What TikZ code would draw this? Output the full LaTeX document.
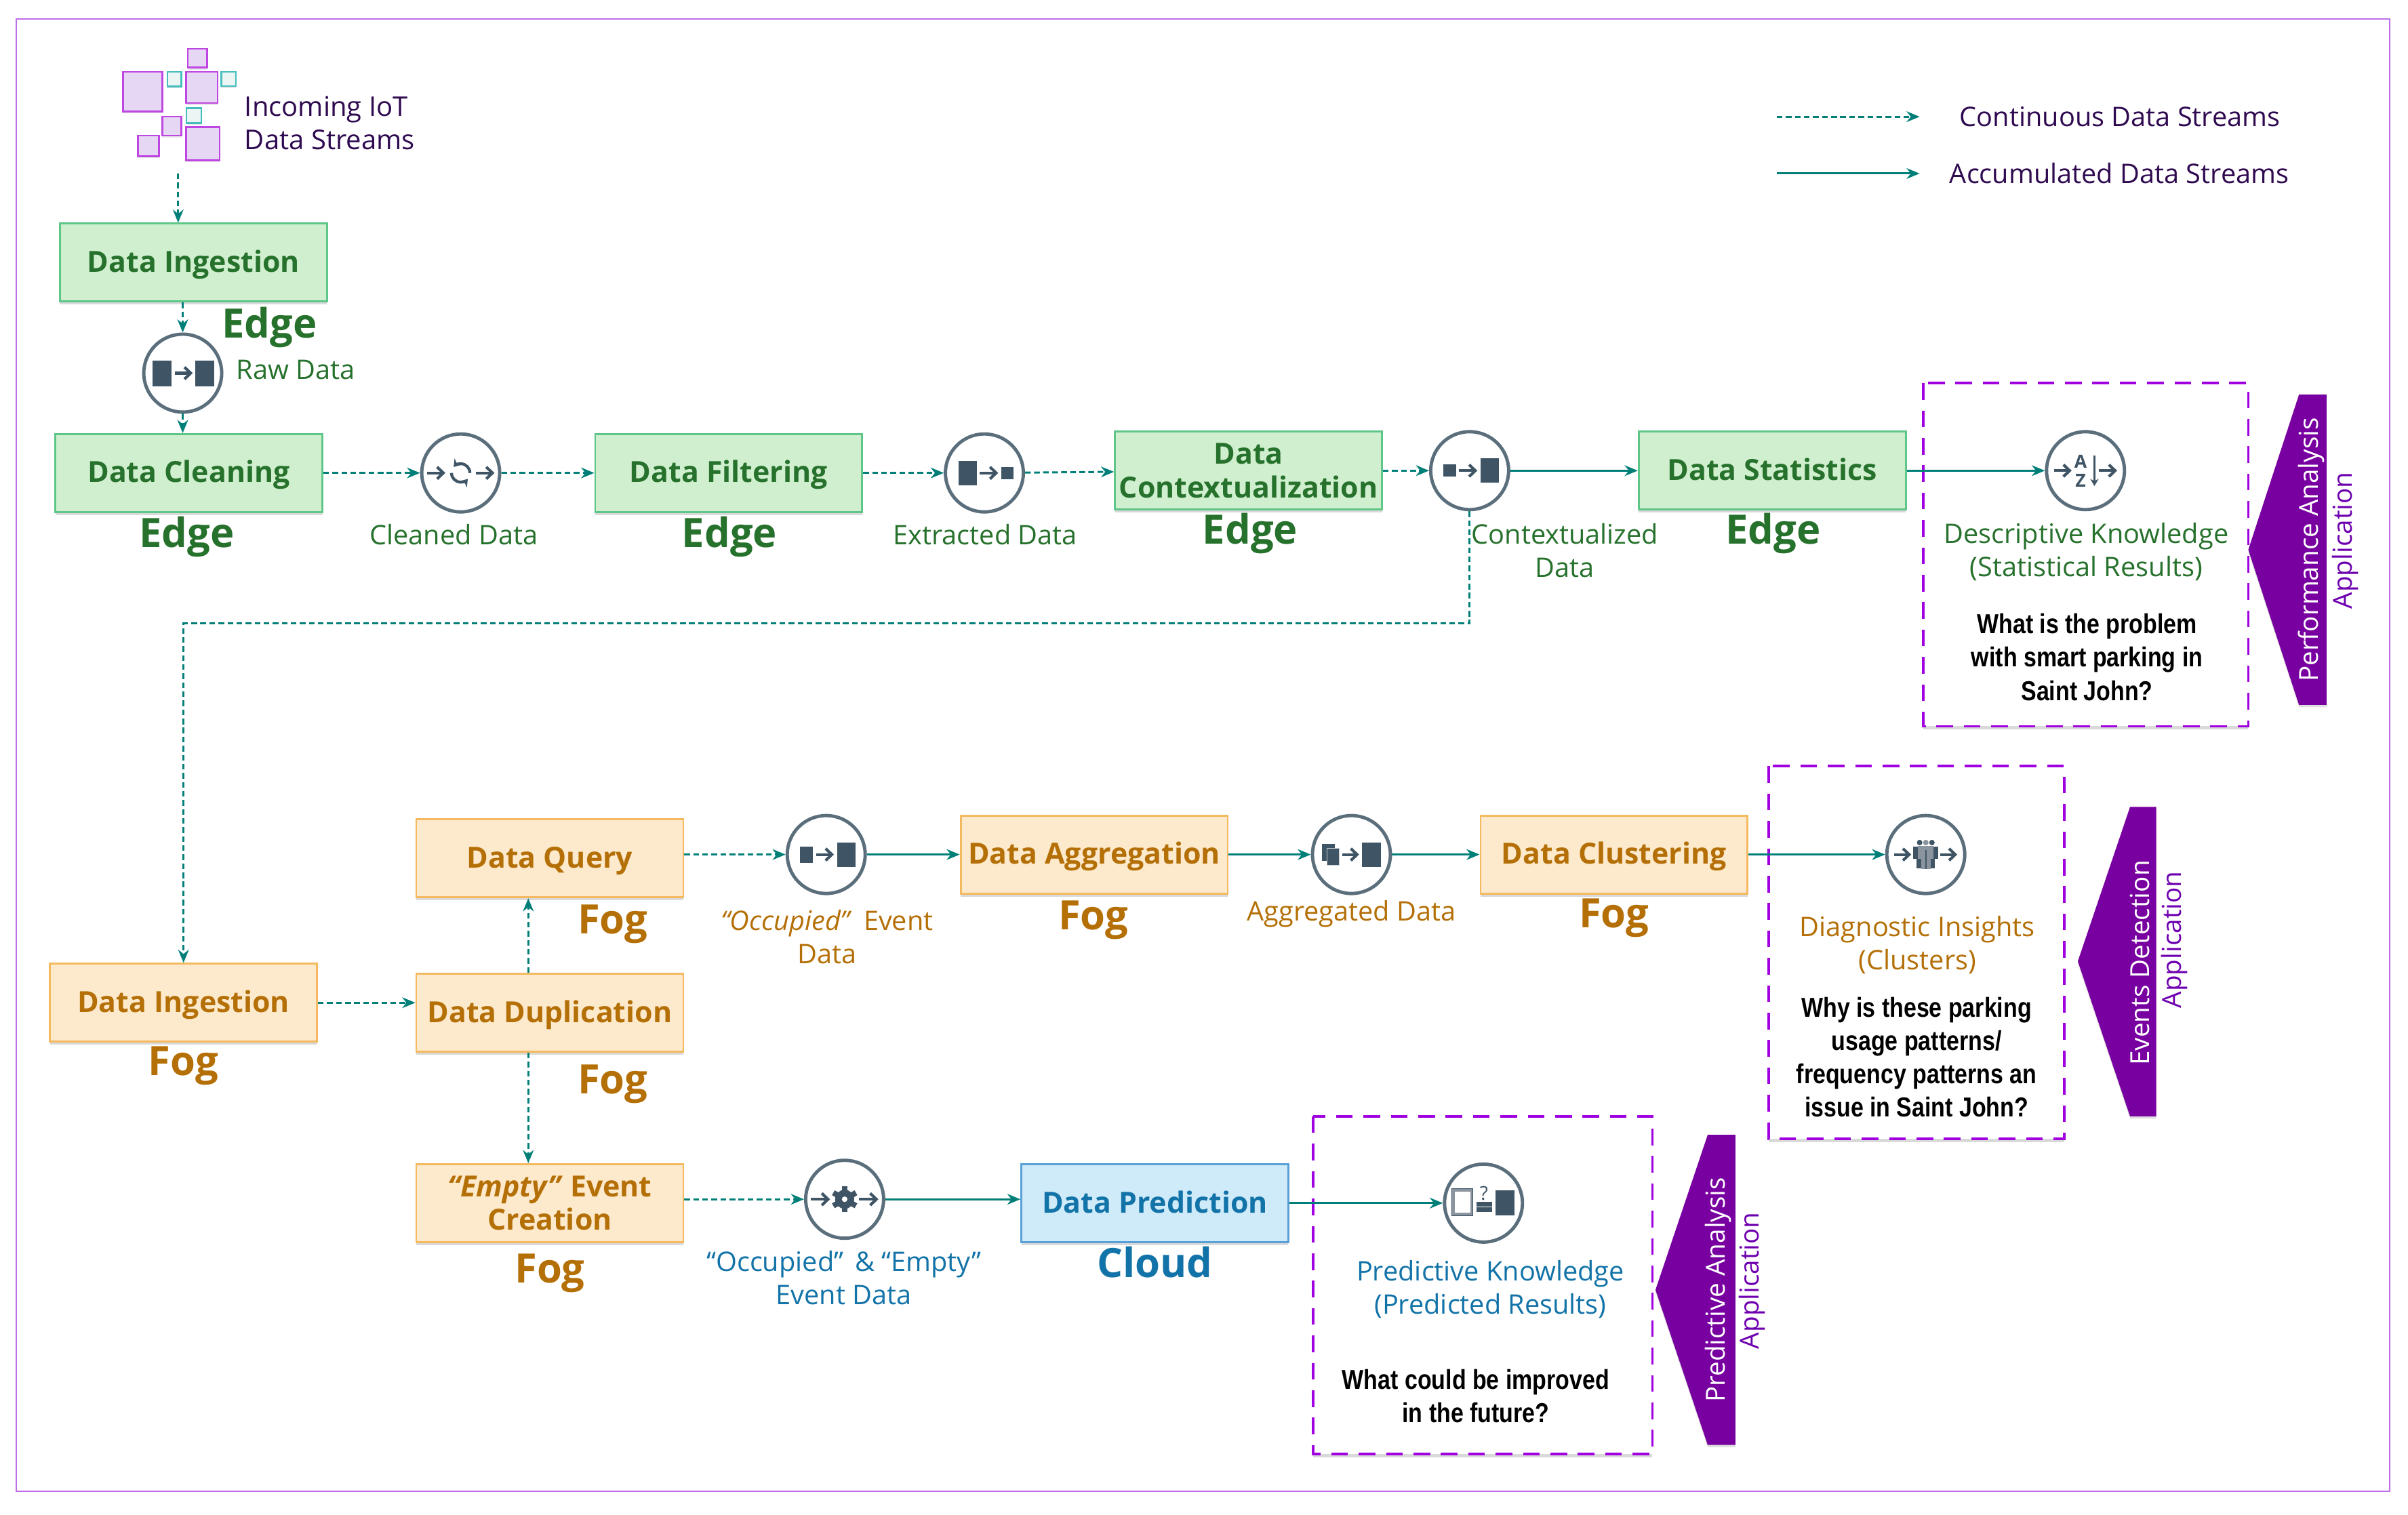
\documentclass[tikz,border=0pt]{standalone}
\usepackage{fontspec}
\usetikzlibrary{arrows.meta, shadows}
\setmainfont{Open Sans}
\newfontfamily\narrowfont[FakeStretch=0.84]{Liberation Sans}

\definecolor{flowcol}{RGB}{0,127,120}
\definecolor{ringcol}{RGB}{90,110,124}
\definecolor{iconcol}{RGB}{63,85,101}
\definecolor{icongrey}{RGB}{137,148,158}
\definecolor{edgetxt}{RGB}{38,113,44}
\definecolor{edgefill}{RGB}{208,239,207}
\definecolor{edgeline}{RGB}{94,198,136}
\definecolor{fogtxt}{RGB}{180,111,6}
\definecolor{fogfill}{RGB}{253,233,203}
\definecolor{fogline}{RGB}{245,185,95}
\definecolor{cloudtxt}{RGB}{18,115,168}
\definecolor{cloudfill}{RGB}{207,234,248}
\definecolor{cloudline}{RGB}{90,160,216}
\definecolor{framecol}{RGB}{190,110,235}
\definecolor{dashcol}{RGB}{160,0,224}
\definecolor{bannercol}{RGB}{120,0,160}
\definecolor{apptxt}{RGB}{110,0,175}
\definecolor{iottxt}{RGB}{47,10,80}
\definecolor{iotfill}{RGB}{230,215,245}
\definecolor{iotline}{RGB}{190,70,225}
\definecolor{iotsmall}{RGB}{235,245,243}
\definecolor{iotteal}{RGB}{70,190,190}

\begin{document}
\begin{tikzpicture}[x=0.022653cm,y=-0.022653cm]
  \tikzstyle{databox}=[draw, line width=0.8pt, minimum width=3.94cm, minimum height=1.15cm,
    inner sep=0pt, align=center, font=\fontsize{12.2}{14}\selectfont\bfseries,
    drop shadow={shadow xshift=0pt, shadow yshift=-1.3pt, opacity=0.3}]
  \tikzstyle{oneline}=[text height=11pt, text depth=2.9pt]
  \tikzstyle{edgebox}=[databox, fill=edgefill, draw=edgeline, text=edgetxt]
  \tikzstyle{fogbox}=[databox, fill=fogfill, draw=fogline, text=fogtxt]
  \tikzstyle{cloudbox}=[databox, fill=cloudfill, draw=cloudline, text=cloudtxt]
  \tikzstyle{ringnode}=[circle, draw=ringcol, fill=white, line width=1.4pt, minimum size=1.15cm, inner sep=0pt]
  \tikzstyle{tier}=[font=\fontsize{17}{19}\selectfont\bfseries, inner sep=0pt]
  \tikzstyle{lbl}=[font=\fontsize{11.3}{14}\selectfont, align=center, inner sep=0pt]
  \tikzstyle{ask}=[font=\fontsize{11.5}{14}\selectfont\narrowfont\bfseries, align=center, inner sep=0pt]
  \tikzstyle{dashbox}=[draw=dashcol, fill=white, line width=1.1pt, dash pattern=on 7pt off 4.5pt,
    drop shadow={shadow xshift=0pt, shadow yshift=-1.3pt, opacity=0.3}]
  \tikzstyle{banner}=[fill=bannercol, drop shadow={shadow xshift=0pt, shadow yshift=-1pt, opacity=0.25}]
  \tikzstyle{apptext}=[font=\fontsize{11}{14}\selectfont, rotate=90, inner sep=0pt]
  \tikzstyle{flow}=[color=flowcol, line width=0.85pt, -{Stealth[length=5.5pt,width=4.5pt]}]
  \tikzstyle{dflow}=[flow, dash pattern=on 2.4pt off 1.4pt]
  \tikzstyle{iconarrow}=[draw=iconcol, line width=1.2pt, -{Straight Barb[length=2.6pt,width=5pt]}]
  \tikzstyle{iotbig}=[draw=iotline, fill=iotfill, line width=0.8pt, drop shadow={shadow xshift=0pt, shadow yshift=-0.8pt, opacity=0.2}]
  \tikzstyle{iotlit}=[draw=iotteal, fill=iotsmall, line width=0.8pt, drop shadow={shadow xshift=0pt, shadow yshift=-0.8pt, opacity=0.2}]

  \useasboundingbox (0,0) rectangle (1568,986.2);
  \draw[framecol, line width=0.6pt] (10.7,12.2) rectangle (1556,971);

  % incoming data squares
  \foreach \xa/\ya/\xb/\yb in {80/46.8/105.9/72.7, 122.3/31.8/134.7/44.1, 121.2/46.8/141.7/67.1,
      105.6/75.9/118.2/88.3, 90/88.3/103.6/101.6, 121.2/82.7/143/104.3}
    \path[iotbig] (\xa,\ya) rectangle (\xb,\yb);
  \foreach \xa/\ya/\xb/\yb in {109/46.8/118.2/56.3, 144.1/46.8/153.6/56.1, 121.4/70.3/131.1/80}
    \path[iotlit] (\xa,\ya) rectangle (\xb,\yb);
  \node[lbl, text=iottxt, align=left, anchor=west, font=\fontsize{11.4}{14}\selectfont] (iottext) at (159,80) {Incoming IoT\\Data Streams};
  \coordinate (iotsrc) at (116,113);

  % dashed question boxes and the banners beside them
  \path[dashbox] (1252.5,249.5) rectangle (1464,473);
  \path[dashbox] (1151.6,499) rectangle (1344,741.6);
  \path[dashbox] (855,727) rectangle (1076,947);
  \path[banner] (1464,358) -- (1497,257) -- (1515,257) -- (1515,459) -- (1497,459) -- cycle;
  \path[banner] (1353,626) -- (1387,525.5) -- (1404,525.5) -- (1404,727) -- (1387,727) -- cycle;
  \path[banner] (1078,840) -- (1112,739) -- (1130,739) -- (1130,941) -- (1112,941) -- cycle;

  % processing boxes
  \node[edgebox, oneline] (ingestedge) at (126,171) {Data Ingestion};
  \node[edgebox, oneline] (cleaning) at (123,308) {Data Cleaning};
  \node[edgebox, oneline] (filtering) at (474.5,308) {Data Filtering};
  \node[edgebox] (context) at (813,306.5) {Data\\Contextualization};
  \node[edgebox, oneline] (statistics) at (1154,306.5) {Data Statistics};
  \node[fogbox, oneline] (query) at (358,559) {Data Query};
  \node[fogbox, oneline] (aggregation) at (712.5,556.5) {Data Aggregation};
  \node[fogbox, oneline] (clustering) at (1051,556.5) {Data Clustering};
  \node[fogbox, oneline] (ingestfog) at (119.5,653) {Data Ingestion};
  \node[fogbox, oneline] (duplication) at (358,659.5) {Data Duplication};
  \node[fogbox] (emptyevent) at (358,783.5) {\textit{``Empty''} Event\\Creation};
  \node[cloudbox, oneline] (prediction) at (752,783.5) {Data Prediction};

  % rings
  \node[ringnode] (raw) at (119,243) {};
  \node[ringnode] (cleaned) at (300,308) {};
  \node[ringnode] (extracted) at (641,308) {};
  \node[ringnode] (ctxdata) at (957,306.5) {};
  \node[ringnode] (descriptive) at (1358,306.5) {};
  \node[ringnode] (occupied) at (538,556.5) {};
  \node[ringnode] (aggregated) at (880,556.5) {};
  \node[ringnode] (clusters) at (1254,556.5) {};
  \node[ringnode] (bothevents) at (550,781) {};
  \node[ringnode] (predictive) at (966,783.5) {};

  % tier names
  \node[tier, text=edgetxt] (tier1) at (175.5,213) {Edge};
  \node[tier, text=edgetxt] (tier2) at (121.5,349.5) {Edge};
  \node[tier, text=edgetxt] (tier3) at (475,349.5) {Edge};
  \node[tier, text=edgetxt] (tier4) at (814,347.5) {Edge};
  \node[tier, text=edgetxt] (tier5) at (1154.5,347.5) {Edge};
  \node[tier, text=fogtxt] (tier6) at (399,602) {Fog};
  \node[tier, text=fogtxt] (tier7) at (712,599) {Fog};
  \node[tier, text=fogtxt] (tier8) at (1051,598) {Fog};
  \node[tier, text=fogtxt] (tier9) at (119.5,694) {Fog};
  \node[tier, text=fogtxt] (tier10) at (399,706) {Fog};
  \node[tier, text=fogtxt] (tier11) at (358,829) {Fog};
  \node[tier, text=cloudtxt] (tier12) at (752,822) {Cloud};

  % labels
  \node[lbl, text=edgetxt] (rawlbl) at (192.5,241) {Raw Data};
  \node[lbl, text=edgetxt] (cleanlbl) at (295.5,348) {Cleaned Data};
  \node[lbl, text=edgetxt] (extractlbl) at (641.5,348) {Extracted Data};
  \node[lbl, text=edgetxt] (ctxlbl) at (1019,358.5) {Contextualized\\Data};
  \node[lbl, text=edgetxt] (desclbl) at (1358.5,359.5) {Descriptive Knowledge\\(Statistical Results)};
  \node[lbl, text=fogtxt] (occlbl) at (538.5,610) {\textit{``Occupied''}\, Event\\Data};
  \node[lbl, text=fogtxt] (agglbl) at (880,595) {Aggregated Data};
  \node[lbl, text=fogtxt] (diaglbl) at (1248.5,615.5) {Diagnostic Insights\\(Clusters)};
  \node[lbl, text=cloudtxt] (bothlbl) at (549.5,832) {``Occupied''\, \& ``Empty''\\Event Data};
  \node[lbl, text=cloudtxt] (predlbl) at (970.5,839.5) {Predictive Knowledge\\(Predicted Results)};
  \node[ask] (ask1) at (1359,428) {What is the problem\\with smart parking in\\Saint John?};
  \node[ask] (ask2) at (1248,688.5) {Why is these parking\\usage patterns/\\frequency patterns an\\issue in Saint John?};
  \node[ask] (ask3) at (961,909) {What could be improved\\in the future?};
  \node[apptext, text=white] (app1) at (1505,358) {Performance Analysis};
  \node[apptext, text=apptxt] (app1b) at (1527,352) {Application};
  \node[apptext, text=white] (app2) at (1393.5,627) {Events Detection};
  \node[apptext, text=apptxt] (app2b) at (1416,612) {Application};
  \node[apptext, text=white] (app3) at (1119,840) {Predictive Analysis};
  \node[apptext, text=apptxt] (app3b) at (1141,834) {Application};

  % legend
  \coordinate (legd1) at (1157,76);
  \coordinate (legd2) at (1250,76);
  \coordinate (legs1) at (1157,113);
  \coordinate (legs2) at (1250,113);
  \node[lbl, text=iottxt] (legdtxt) at (1380.5,76) {Continuous Data Streams};
  \node[lbl, text=iottxt] (legstxt) at (1380,113) {Accumulated Data Streams};
  \coordinate (ctxturn) at (957,406);
  \coordinate (dupx) at (344,659.5);

  % connectors
  \path[dflow] (legd1) edge (legd2);
  \path[flow] (legs1) edge (legs2);
  \path[dflow]
    (iotsrc) edge (iotsrc |- ingestedge.north)
    (raw |- ingestedge.south) edge (raw.north)
    (raw.south) edge (raw |- cleaning.north)
    (cleaning) edge (cleaned)
    (cleaned) edge (filtering)
    (filtering) edge (extracted)
    (extracted) edge (context)
    (context) edge (ctxdata)
    (ingestfog) edge (duplication.west |- ingestfog)
    (query.east |- occupied) edge (occupied)
    (emptyevent.east |- bothevents) edge (bothevents)
    (dupx |- duplication.north) edge (dupx |- query.south)
    (dupx |- duplication.south) edge (dupx |- emptyevent.north);
  \draw[dflow] (ctxdata.south) -- (ctxturn) -| (ingestfog.north);
  \path[flow]
    (ctxdata) edge (statistics)
    (statistics) edge (descriptive)
    (occupied) edge (aggregation)
    (aggregation) edge (aggregated)
    (aggregated) edge (clustering)
    (clustering) edge (clusters)
    (bothevents) edge (prediction.west |- bothevents)
    (prediction) edge (predictive);

  % icons
  \begin{scope}[shift={(raw)}]
    \fill[iconcol] (-19.7,-8) rectangle (-7.3,8.5);
    \fill[iconcol] (8,-8) rectangle (20.4,8.5);
    \draw[iconarrow] (-5,0) -- (6.5,0);
  \end{scope}
  \begin{scope}[shift={(extracted)}]
    \fill[iconcol] (-17,-8) rectangle (-5,8);
    \fill[iconcol] (11,-4) rectangle (19,4);
    \draw[iconarrow] (-3,0) -- (9,0);
  \end{scope}
  \begin{scope}[shift={(ctxdata)}]
    \fill[iconcol] (-17,-4) rectangle (-9,4);
    \fill[iconcol] (7,-8) rectangle (19,8);
    \draw[iconarrow] (-7,0) -- (5,0);
  \end{scope}
  \begin{scope}[shift={(occupied)}]
    \fill[iconcol] (-17,-5.3) rectangle (-8.8,5.3);
    \fill[iconcol] (7,-8) rectangle (19,8);
    \draw[iconarrow] (-6.5,0) -- (5,0);
  \end{scope}
  \begin{scope}[shift={(aggregated)}]
    \fill[iconcol] (-19,-7) rectangle (-11,4);
    \fill[iconcol, draw=white!70!iconcol, line width=0.3pt] (-16,-4) rectangle (-8,7);
    \fill[iconcol] (7,-8) rectangle (19,8);
    \draw[iconarrow] (-6,0) -- (5,0);
  \end{scope}
  \begin{scope}[shift={(cleaned)}]
    \draw[iconarrow] (-22,0) -- (-10,0);
    \draw[iconarrow] (10,0) -- (22,0);
    \draw[iconcol, line width=1.2pt, -{Stealth[length=3pt,width=4pt]}] (-6,0) arc (180:40:6);
    \draw[iconcol, line width=1.2pt, -{Stealth[length=3pt,width=4pt]}] (6,0) arc (0:-140:6);
  \end{scope}
  \begin{scope}[shift={(descriptive)}]
    \draw[iconarrow] (-20.6,0) -- (-9,0);
    \draw[iconarrow] (8.6,0) -- (20.6,0);
    \node[font=\fontsize{7.6}{8}\selectfont\bfseries, text=iconcol, inner sep=0pt] (azA) at (-3.2,-6) {A};
    \node[font=\fontsize{7.6}{8}\selectfont\bfseries, text=iconcol, inner sep=0pt] (azZ) at (-3.2,6.5) {Z};
    \draw[iconcol, line width=0.6pt, -{Stealth[length=3pt,width=3.5pt]}] (5.8,-10) -- (5.8,10);
  \end{scope}
  \begin{scope}[shift={(clusters)}]
    \draw[iconarrow] (-20.5,0) -- (-9.5,0);
    \draw[iconarrow] (9.5,0) -- (20.5,0);
    \fill[iconcol] (-4,-7.8) circle (1.8);
    \fill[iconcol] (4,-7.8) circle (1.8);
    \fill[iconcol] (-8.2,-5) rectangle (8.2,3);
    \fill[iconcol] (-6,3) rectangle (6,9);
    \fill[icongrey] (0,-7.8) circle (1.8);
    \fill[icongrey] (-5,-5.5) rectangle (5,3);
    \fill[icongrey] (-3,3) rectangle (3,9.6);
    \fill[iconcol] (-0.5,-3) rectangle (0.5,9.6);
  \end{scope}
  \begin{scope}[shift={(bothevents)}]
    \draw[iconarrow] (-22,0) -- (-9.5,0);
    \draw[iconarrow] (9.5,0) -- (22,0);
    \foreach \ang in {0,60,120}
      \fill[iconcol, rotate=\ang] (-1.8,-8.5) rectangle (1.8,8.5);
    \fill[iconcol] (0,0) circle (6.2);
    \fill[white] (0,0) circle (1.8);
  \end{scope}
  \begin{scope}[shift={(predictive)}]
    \draw[draw=iconcol, fill=icongrey, line width=0.3pt] (-20.6,-9.3) rectangle (-6.9,8.2);
    \fill[white] (-18.8,-7.5) rectangle (-8.7,6.4);
    \fill[iconcol] (7.8,-8.5) rectangle (20.2,7.9);
    \node[font=\fontsize{8}{8}\selectfont, text=iconcol, inner sep=0pt] (qmark) at (0.3,-6.3) {?};
    \fill[iconcol] (-4.6,-0.9) rectangle (5.6,2.2);
    \fill[iconcol] (-4.6,2.8) rectangle (5.6,5.7);
  \end{scope}
\end{tikzpicture}
\end{document}
